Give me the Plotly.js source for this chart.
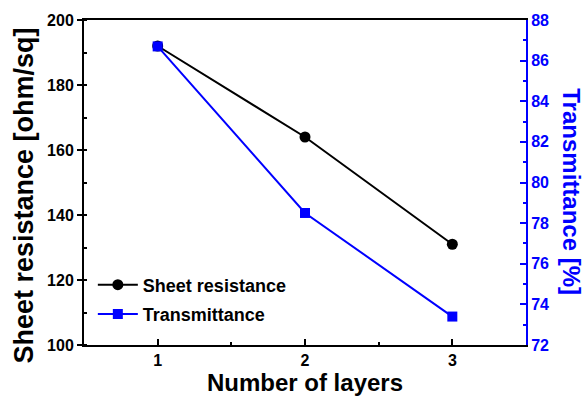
<!DOCTYPE html>
<html><head><meta charset="utf-8">
<script src="https://cdn.plot.ly/plotly-3.0.1.min.js"></script>
<style>body{margin:0;background:#fff}#c{width:587px;height:396px}</style>
</head><body><div id="c"></div>
<script>
const layers = [1, 2, 3];
const sheetResistance = [192, 164, 131];
const transmittance = [86.7, 78.5, 73.4];

const F = 'Liberation Sans, Arial, sans-serif';
const traces = [
  {x: layers, y: sheetResistance, name: 'Sheet resistance', type: 'scatter', mode: 'lines+markers', legendgroup: 'a',
   line: {color: '#000', width: 2}, marker: {symbol: 'circle', size: 11, color: '#000'}, yaxis: 'y'},
  {x: layers, y: transmittance, name: 'Transmittance', type: 'scatter', mode: 'lines+markers', legendgroup: 'b',
   line: {color: '#0000ff', width: 2}, marker: {symbol: 'square', size: 10, color: '#0000ff'}, yaxis: 'y2'}
];
const layout = {
  width: 587, height: 396,
  margin: {l: 84, r: 61, t: 20, b: 51},
  paper_bgcolor: '#fff', plot_bgcolor: '#fff',
  showlegend: true,
  legend: {x: 0.02, y: 0.14, xanchor: 'left', yanchor: 'middle', bgcolor: 'rgba(0,0,0,0)',
           traceorder: 'grouped', tracegroupgap: 3,
           font: {family: F, size: 18, color: '#000', weight: 'bold'}, itemwidth: 40},
  xaxis: {range: [0.5, 3.5], dtick: 1, tick0: 1, showgrid: false, zeroline: false,
          showline: true, linecolor: '#000', linewidth: 2, mirror: true,
          ticks: 'inside', ticklen: 6, tickwidth: 2, tickcolor: '#000',
          minor: {dtick: 0.5, ticks: 'inside', ticklen: 3, tickwidth: 2, tickcolor: '#000'},
          tickfont: {family: F, size: 16, color: '#000', weight: 'bold'},
          title: {text: 'Number of layers', font: {family: F, size: 24, color: '#000', weight: 'bold'}, standoff: 9}},
  yaxis: {range: [100, 200], dtick: 20, showgrid: false, zeroline: false,
          showline: true, linecolor: '#000', linewidth: 2,
          ticks: 'outside', ticklen: 5, tickwidth: 2, tickcolor: '#000',
          minor: {dtick: 10, ticks: 'inside', ticklen: 3, tickwidth: 2, tickcolor: '#000'},
          tickfont: {family: F, size: 16, color: '#000', weight: 'bold'}},
  yaxis2: {range: [72, 88], dtick: 2, overlaying: 'y', side: 'right', showgrid: false, zeroline: false,
          showline: true, linecolor: '#0000ff', linewidth: 2,
          ticks: 'inside', ticklen: 6, tickwidth: 2, tickcolor: '#0000ff',
          minor: {dtick: 1, ticks: 'inside', ticklen: 3, tickwidth: 2, tickcolor: '#0000ff'},
          tickfont: {family: F, size: 16, color: '#0000ff', weight: 'bold'}},
  annotations: [
    {text: 'Sheet resistance [ohm/sq]', textangle: -90, showarrow: false,
     xref: 'paper', yref: 'paper', x: -0.138, y: 0.46, xanchor: 'center', yanchor: 'middle',
     font: {family: F, size: 27, color: '#000', weight: 'bold'}},
    {text: 'Transmittance [%]', textangle: 90, showarrow: false,
     xref: 'paper', yref: 'paper', x: 1.101, y: 0.471, xanchor: 'center', yanchor: 'middle',
     font: {family: F, size: 24, color: '#0000ff', weight: 'bold'}}
  ]
};
Plotly.newPlot('c', traces, layout, {staticPlot: true});
</script></body></html>
